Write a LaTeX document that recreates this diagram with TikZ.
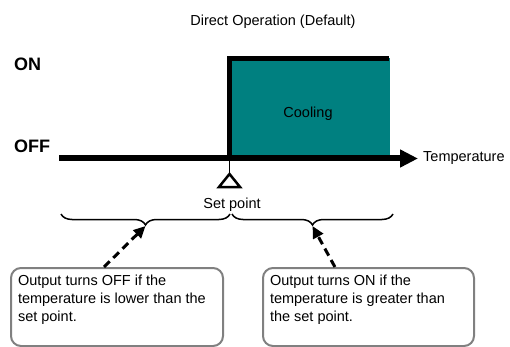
\documentclass[tikz,border=0pt]{standalone}
\usepackage{fontspec}
\setmainfont{Liberation Sans}
\usepackage{xcolor}
\usetikzlibrary{arrows.meta}
\usetikzlibrary{calc}
\usetikzlibrary{decorations.pathreplacing}
\definecolor{coolteal}{RGB}{0,128,128}
\definecolor{boxgray}{RGB}{128,128,128}
\newcommand{\normtext}{\fontsize{14.5}{18}\selectfont}
\newcommand{\bigtext}{\fontsize{18}{22}\selectfont\bfseries}
\tikzset{
  plain/.style={inner sep=0pt, font=\normtext},
  levellabel/.style={inner sep=0pt, anchor=base west, font=\bigtext},
  infobox/.style={draw=boxgray, line width=2pt, rounded corners=10pt,
    fill=white, anchor=north west, inner sep=7pt, font=\normtext},
  hintarrow/.style={line width=3pt, dash pattern=on 8pt off 5pt,
    -{Triangle[length=12pt,width=11pt]}},
  bracket/.style={line width=1.5pt,
    decorate, decoration={brace, mirror, amplitude=11pt}}
}

\begin{document}
\begin{tikzpicture}[x=1pt, y=-1pt]
    \useasboundingbox (0,0) rectangle (510,347);

    % title and levels
    \node[plain, anchor=base] (title) at (273,25.5) {Direct Operation (Default)};
    \node[levellabel] (onlabel) at (14,70.7) {ON};
    \node[levellabel] (offlabel) at (14,153) {OFF};

    % cooling region
    \fill [coolteal] (230,58) rectangle (390,158);
    \node[plain, anchor=base] (cooling) at (308,117.5) {Cooling};
    \draw [line width=5pt] (229.5,158) -- (229.5,58.5) -- (389,58.5);

    % temperature axis
    \coordinate (axisstart) at (59,158.5);
    \coordinate (axisend) at (418,158.5);
    \draw [line width=6pt, -{Triangle[length=18pt,width=17pt]}] (axisstart) -- (axisend);
    \node[plain, anchor=base west] (templabel) at (423,162) {Temperature};

    % set point marker
    \draw [line width=1.5pt] (229.5,161) -- (229.5,174);
    \draw [line width=2.5pt, fill=white] (229.5,174) -- (240,187) -- (219,187) -- cycle;
    \node[plain, anchor=base] (setpoint) at (232,208.3) {Set point};

    % ranges below and above the set point
    \draw [bracket] (61,214) -- (230,214);
    \draw [bracket] (232,214) -- (393,214);
    \coordinate (lowtip) at (145.5,226);
    \coordinate (hightip) at (312.5,226);

    % explanations
    \node[infobox] (offbox) at (10,267)
      {\parbox[c][64pt][t]{198pt}{Output turns OFF if the\\
       temperature is lower than the\\ set point.}};
    \node[infobox] (onbox) at (262,267)
      {\parbox[c][64pt][t]{197pt}{Output turns ON if the\\
       temperature is greater than\\ the set point.}};

    \draw [hintarrow] (offbox.108) -- (lowtip);
    \draw [hintarrow] (onbox.130) -- (hightip);

  \end{tikzpicture}
\end{document}
